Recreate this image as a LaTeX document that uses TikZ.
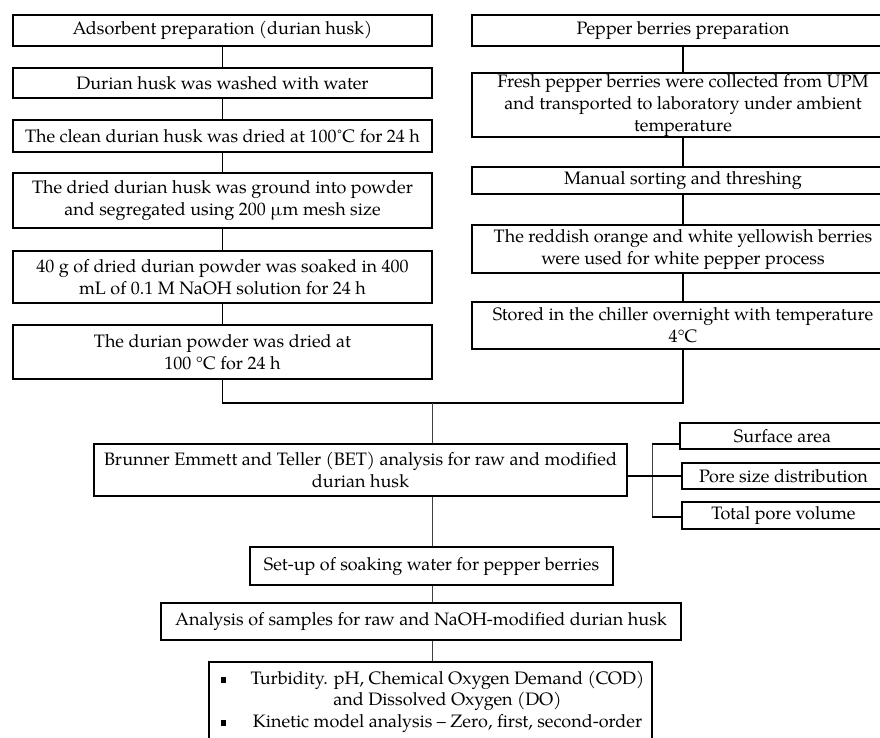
\documentclass[tikz,border=0pt]{standalone}
\usepackage{fontspec}
\setmainfont{TeX Gyre Pagella}
\begin{document}
\begin{tikzpicture}[x=1pt,y=-1pt,
  box/.style={draw=black, line width=1.1pt, inner sep=0pt, align=center,
    font=\fontsize{18}{22}\selectfont},
  conn/.style={draw=black, line width=1.1pt},
  thin/.style={draw=black!75, line width=0.8pt}]
\useasboundingbox (0,0) rectangle (880,738);
\clip (0,0) rectangle (880,738);
% left column
\node[box, minimum width=419pt, minimum height=31pt] (l1) at (222.5,30.5) {Adsorbent preparation (durian husk)};
\node[box, minimum width=419pt, minimum height=30pt] (l2) at (222.5,83) {Durian husk was washed with water};
\node[box, minimum width=419pt, minimum height=32pt] (l3) at (222.5,136) {The clean durian husk was dried at 100˚C for 24 h};
\node[box, minimum width=419pt, minimum height=55pt] (l4) at (222.5,200.5) {The dried durian husk was ground into powder\\and segregated using 200 µm mesh size};
\node[box, minimum width=419pt, minimum height=52pt] (l5) at (222.5,277) {40 g of dried durian powder was soaked in 400\\mL of 0.1 M NaOH solution for 24 h};
\node[box, minimum width=419pt, minimum height=54pt] (l6) at (222.5,352) {The durian powder was dried at\\100 °C for 24 h};
% right column
\node[box, minimum width=422pt, minimum height=31pt] (r1) at (683,30.5) {Pepper berries preparation};
\node[box, minimum width=422pt, minimum height=64pt] (r2) at (683,105) {Fresh pepper berries were collected from UPM\\and transported to laboratory under ambient\\temperature};
\node[box, minimum width=422pt, minimum height=27pt] (r3) at (683,180.5) {Manual sorting and threshing};
\node[box, minimum width=422pt, minimum height=48pt] (r4) at (683,249) {The reddish orange and white yellowish berries\\were used for white pepper process};
\node[box, minimum width=422pt, minimum height=47pt] (r5) at (683,325.5) {Stored in the chiller overnight with temperature\\4°C};
% column connectors
\draw[conn] (l1) -- (l2);
\draw[conn] (l2) -- (l3);
\draw[conn] (l3) -- (l4);
\draw[conn] (l4) -- (l5);
\draw[conn] (l5) -- (l6);
\draw[conn] (r1) -- (r2);
\draw[conn] (r2) -- (r3);
\draw[conn] (r3) -- (r4);
\draw[conn] (r4) -- (r5);
% join
\coordinate (jl) at (222.5,403);
\coordinate (jr) at (683,403);
\coordinate (jm) at (432,403);
\draw[conn] (l6.south) -- (jl) -- (jr) -- (r5.south);
% BET
\node[box, minimum width=533pt, minimum height=52pt] (bet) at (360.5,470) {Brunner Emmett and Teller (BET) analysis for raw and modified\\durian husk};
\draw[thin] (jm) -- (jm |- bet.north);
\node[box, minimum width=205pt, minimum height=26pt] (surf) at (782.5,436) {Surface area};
\node[box, minimum width=203pt, minimum height=26pt] (pore) at (783.5,476) {Pore size distribution};
\node[box, minimum width=203pt, minimum height=27pt] (tot) at (783.5,515.5) {Total pore volume};
\coordinate (bt) at (652,444);
\coordinate (bb) at (652,517);
\draw[thin] (bt) -- (bb);
\draw[conn] (bt) -- (bt -| surf.west);
\draw[conn] (bb) -- (bb -| tot.west);
\draw[conn] (pore.west -| bet.east) -- (pore.west);
% lower chain
\node[box, minimum width=363pt, minimum height=38pt] (setup) at (431.5,566) {Set-up of soaking water for pepper berries};
\node[box, minimum width=520pt, minimum height=37pt] (ana) at (421,621.5) {Analysis of samples for raw and NaOH-modified durian husk};
\node[box, minimum width=443pt, minimum height=98pt] (res) at (430.5,711) {};
\node[align=center, inner sep=0pt, font=\fontsize{18}{21.5}\selectfont] (restext) at (447.5,701.5) {Turbidity. pH, Chemical Oxygen Demand (COD)\\and Dissolved Oxygen (DO)\\Kinetic model analysis – Zero, first, second-order};
\node[inner sep=0pt, fill=black, minimum width=5pt, minimum height=6pt] (b1) at (223,680) {};
\node[inner sep=0pt, fill=black, minimum width=5pt, minimum height=6pt] (b2) at (223,723) {};
\draw[thin] (jm |- bet.south) -- (jm |- setup.north);
\draw[thin] (jm |- setup.south) -- (jm |- ana.north);
\draw[thin] (jm |- ana.south) -- (jm |- res.north);
\end{tikzpicture}
\end{document}
